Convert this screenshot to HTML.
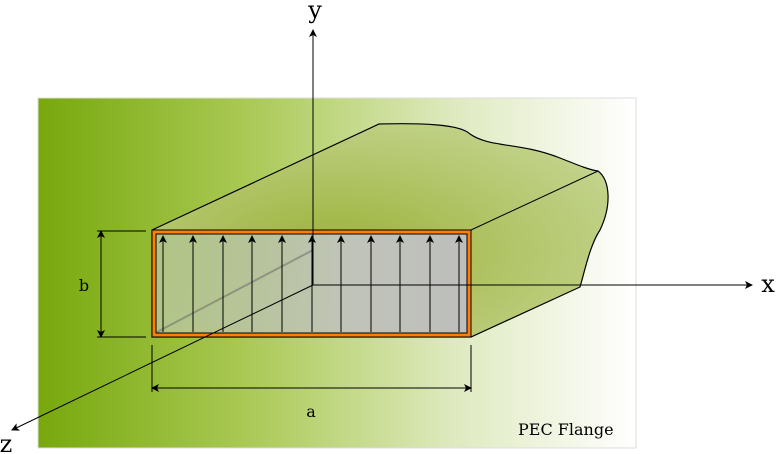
<!DOCTYPE html>
<html><head><style>body{margin:0;background:#fff}svg{display:block}text{font-family:"DejaVu Serif","Liberation Serif",serif}</style></head><body>
<svg width="778" height="454" viewBox="0 0 778 454" xmlns="http://www.w3.org/2000/svg">
<defs>
<linearGradient id="bg" x1="0" x2="1" y1="0" y2="0"><stop offset="0" stop-color="#77a80c"/><stop offset="0.35" stop-color="#aac955"/><stop offset="0.7" stop-color="#dfeac0"/><stop offset="1" stop-color="#ffffff"/></linearGradient>
<radialGradient id="wg" cx="0.4" cy="0.6" r="0.8"><stop offset="0" stop-color="#9cb23a"/><stop offset="1" stop-color="#c9d99a"/></radialGradient>
<linearGradient id="inner" x1="0" x2="1"><stop offset="0" stop-color="#b0c48a" stop-opacity="0.8"/><stop offset="0.6" stop-color="#c0c4b8"/><stop offset="1" stop-color="#bebebe"/></linearGradient>
<marker id="ar" markerWidth="8" markerHeight="8" refX="7" refY="4" orient="auto"><path d="M0,0 L8,4 L0,8 L2,4z" fill="#000"/></marker>
<marker id="ar2" markerWidth="8" markerHeight="8" refX="1" refY="4" orient="auto"><path d="M8,0 L0,4 L8,8 L6,4z" fill="#000"/></marker>
</defs>
<rect x="38" y="98" width="598" height="350" fill="url(#bg)" stroke="#ddd"/>
<path d="M152,230 L379,124 C420,123 460,124 470,134 C490,148 520,142 560,158 C580,166 590,170 598,171 C610,180 612,205 600,230 C590,245 585,270 580,287 L471,337 L152,337 Z" fill="url(#wg)" stroke="#000" stroke-width="1.2"/>
<path d="M471,230 L598,171" stroke="#000" fill="none"/>
<rect x="152" y="230" width="319" height="107" fill="url(#inner)"/>
<line x1="157" y1="332" x2="313" y2="250" stroke="#666" stroke-width="2" opacity="0.5"/>
<g stroke="#000" stroke-width="1" marker-end="url(#ar)">
<line x1="163" y1="332" x2="163" y2="236"/><line x1="193" y1="332" x2="193" y2="236"/><line x1="223" y1="332" x2="223" y2="236"/><line x1="252" y1="332" x2="252" y2="236"/><line x1="282" y1="332" x2="282" y2="236"/><line x1="312" y1="332" x2="312" y2="236"/><line x1="341" y1="332" x2="341" y2="236"/><line x1="371" y1="332" x2="371" y2="236"/><line x1="400" y1="332" x2="400" y2="236"/><line x1="430" y1="332" x2="430" y2="236"/><line x1="459" y1="332" x2="459" y2="236"/>
</g>
<rect x="154" y="232" width="315" height="103" fill="none" stroke="#000" stroke-width="5"/>
<rect x="154" y="232" width="315" height="103" fill="none" stroke="#ff8000" stroke-width="3"/>
<g stroke="#000" stroke-width="1" fill="none">
<line x1="313" y1="285" x2="313" y2="30" marker-end="url(#ar)"/>
<line x1="313" y1="285" x2="752" y2="285" marker-end="url(#ar)"/>
<line x1="313" y1="285" x2="12" y2="430" marker-end="url(#ar)"/>
<line x1="97" y1="231" x2="146" y2="231"/><line x1="97" y1="337" x2="146" y2="337"/>
<line x1="101" y1="337" x2="101" y2="231" marker-end="url(#ar)" marker-start="url(#ar2)"/>
<line x1="152" y1="345" x2="152" y2="392"/><line x1="471" y1="345" x2="471" y2="392"/>
<line x1="152" y1="388" x2="471" y2="388" marker-end="url(#ar)" marker-start="url(#ar2)"/>
</g>
<text x="315" y="18" font-size="24" text-anchor="middle">y</text>
<text x="768" y="292" font-size="24" text-anchor="middle">x</text>
<text x="6" y="452" font-size="24" text-anchor="middle">z</text>
<text x="84" y="291" font-size="16" text-anchor="middle">b</text>
<text x="311" y="417" font-size="16" text-anchor="middle">a</text>
<text x="518" y="435" font-size="16">PEC Flange</text>
</svg>
</body></html>
